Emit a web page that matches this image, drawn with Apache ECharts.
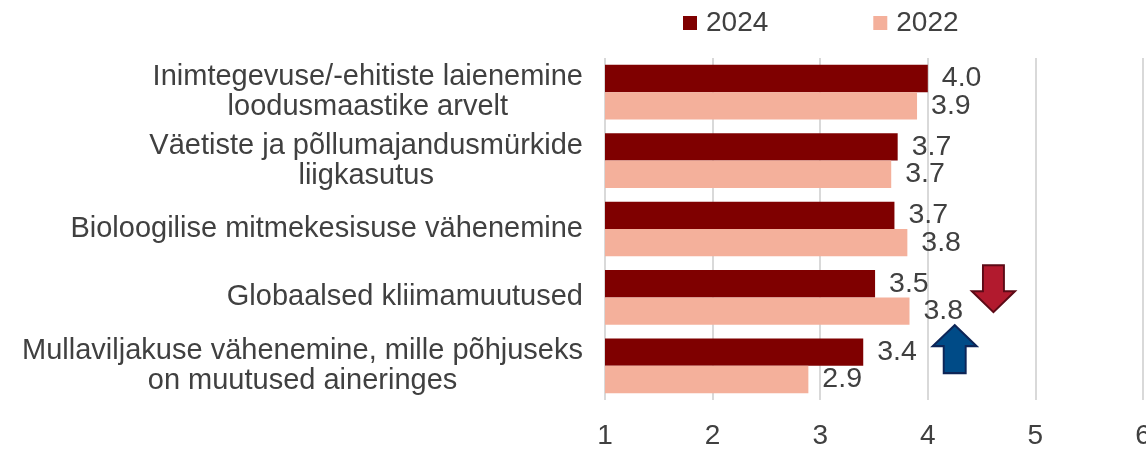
<!DOCTYPE html>
<html>
<head>
<meta charset="utf-8">
<script src="https://cdn.jsdelivr.net/npm/echarts@6/dist/echarts.min.js"></script>
<style>
  html, body { margin: 0; padding: 0; background: #fff; }
  #chart { width: 1146px; height: 449px; }
</style>
</head>
<body>
<div id="chart"></div>
<script>
const categories = [
  'Inimtegevuse/-ehitiste laienemine\nloodusmaastike arvelt',
  'Väetiste ja põllumajandusmürkide\nliigkasutus',
  'Bioloogilise mitmekesisuse vähenemine',
  'Globaalsed kliimamuutused',
  'Mullaviljakuse vähenemine, mille põhjuseks\non muutused aineringes'
];
const values2024 = [4.0, 3.72, 3.69, 3.51, 3.40];
const values2022 = [3.90, 3.66, 3.81, 3.83, 2.89];
const xTicks = [1, 2, 3, 4, 5, 6];

const textColor = '#404040';
const font = 'Liberation Sans, Arial, sans-serif';

const chart = echarts.init(document.getElementById('chart'));

// block arrows next to the bars (down = worse, up = better)
const arrowDown = 'path://M11,0 L32,0 L32,26 L43,26 L21.5,47 L0,26 L11,26 Z';
const arrowUp = 'path://M22,0 L44,21 L33,21 L33,48 L11,48 L11,21 L0,21 Z';

const valueLabel = {
  show: true,
  position: 'right',
  distance: 14,
  color: textColor,
  fontSize: 28.5,
  fontFamily: font,
  formatter: p => p.value.toFixed(1)
};

const option = {
  animation: false,
  textStyle: { fontFamily: font },
  legend: {
    left: 683,
    top: 9,
    padding: 0,
    itemWidth: 14,
    itemHeight: 14,
    itemGap: 105,
    icon: 'rect',
    textStyle: { color: textColor, fontSize: 28, fontFamily: font, padding: [0, 0, 0, 4] },
    data: ['2024', '2022']
  },
  grid: {
    left: 605,
    right: 3,
    top: 58,
    bottom: 49,
    containLabel: false,
    outerBoundsMode: 'none'
  },
  xAxis: {
    type: 'value',
    min: 1,
    max: 6,
    interval: 1,
    axisLine: { show: false },
    axisTick: { show: false },
    splitLine: { lineStyle: { color: '#d9d9d9', width: 2 } },
    axisLabel: {
      color: textColor,
      fontSize: 28,
      fontFamily: font,
      margin: 22,
      formatter: v => xTicks.indexOf(v) >= 0 ? String(v) : ''
    }
  },
  yAxis: {
    type: 'category',
    inverse: true,
    data: categories,
    axisLine: { show: false },
    axisTick: { show: false },
    axisLabel: {
      margin: 22,
      color: textColor,
      fontSize: 29,
      fontFamily: font,
      lineHeight: 30,
      formatter: v => v.split('\n').map(s => '{c|' + s + '}').join('\n'),
      rich: {
        c: { align: 'center', fontSize: 29, lineHeight: 30, color: textColor, fontFamily: font }
      }
    }
  },
  series: [
    {
      name: '2024',
      type: 'bar',
      data: values2024,
      barGap: '0%',
      barCategoryGap: '20%',
      itemStyle: { color: '#7f0000' },
      label: valueLabel,
      markPoint: {
        silent: true,
        label: { show: false },
        data: [
          {
            coord: [4.61, categories[3]],
            symbol: arrowDown,
            symbolSize: [43, 47],
            symbolOffset: [0, 5],
            itemStyle: { color: '#b21a2e', borderColor: '#5c0a16', borderWidth: 2 }
          },
          {
            coord: [4.25, categories[4]],
            symbol: arrowUp,
            symbolSize: [44, 48],
            symbolOffset: [0, -3],
            itemStyle: { color: '#004b87', borderColor: '#0d2557', borderWidth: 2 }
          }
        ]
      }
    },
    {
      name: '2022',
      type: 'bar',
      data: values2022,
      barGap: '0%',
      barCategoryGap: '20%',
      itemStyle: { color: '#f4b09b' },
      label: valueLabel
    }
  ]
};

chart.setOption(option);
</script>
</body>
</html>
